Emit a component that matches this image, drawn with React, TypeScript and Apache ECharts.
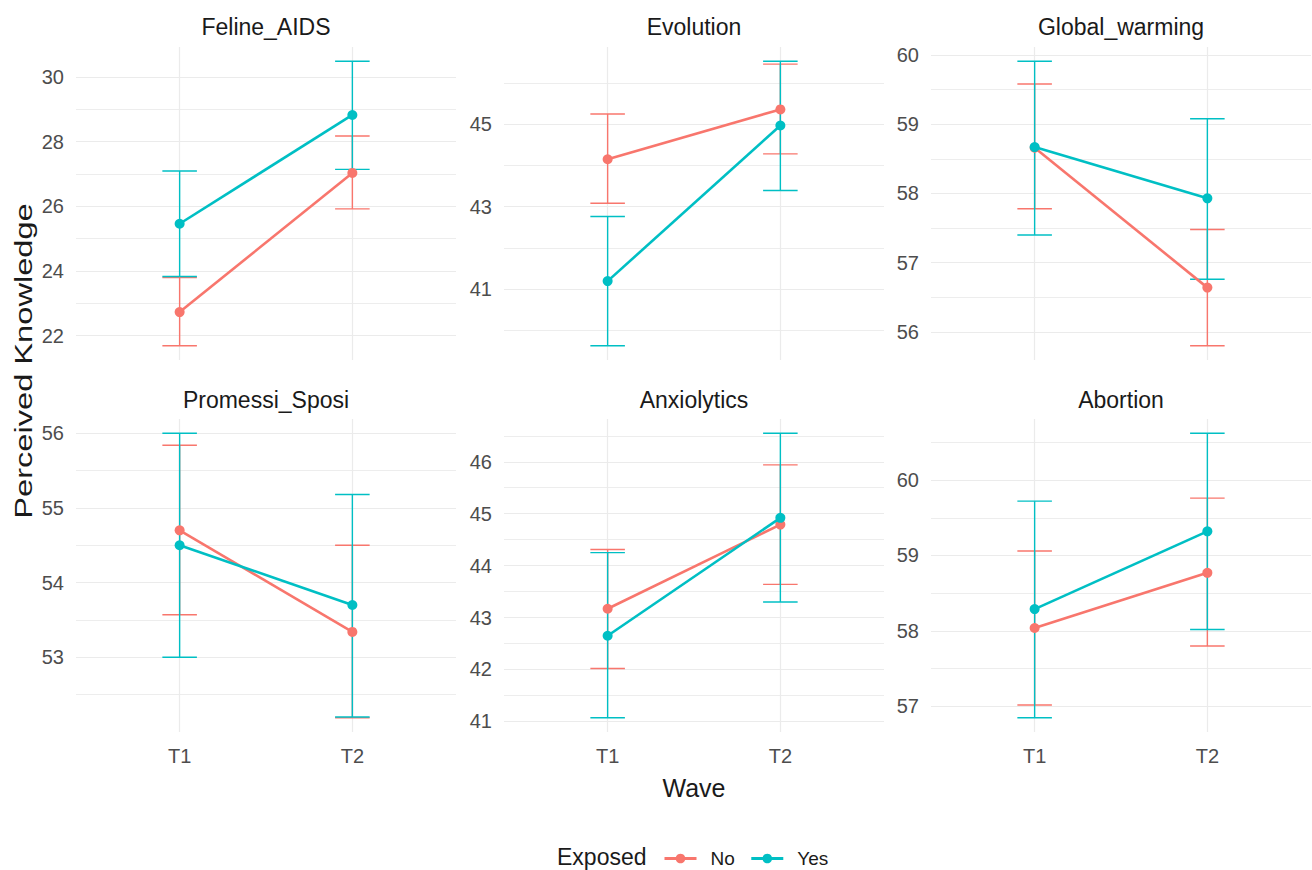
import React, { useEffect, useRef } from "react";
import * as echarts from "echarts";

const panels = ["Feline_AIDS", "Evolution", "Global_warming", "Promessi_Sposi", "Anxiolytics", "Abortion"];
const waves = ["T1", "T2"];
const groups = ["No", "Yes"];
const groupColors = ["#F8766D", "#00BFC4"];

// [T1, T2] per panel
const noMean = [[22.73, 27.03], [44.15, 45.36], [58.66, 56.64], [54.70, 53.34], [43.17, 44.79], [58.04, 58.77]];
const noLow = [[21.69, 25.92], [43.08, 44.28], [57.78, 55.80], [53.57, 52.19], [42.02, 43.64], [57.02, 57.80]];
const noHigh = [[23.80, 28.17], [45.25, 46.46], [59.58, 57.48], [55.84, 54.50], [44.31, 45.94], [59.06, 59.76]];

const yesMean = [[25.46, 28.82], [41.19, 44.97], [58.67, 57.93], [54.50, 53.70], [42.65, 44.92], [58.29, 59.32]];
const yesLow = [[23.83, 27.14], [39.62, 43.39], [57.40, 56.76], [53.00, 52.20], [41.07, 43.30], [56.85, 58.02]];
const yesHigh = [[27.09, 30.48], [42.76, 46.53], [59.91, 59.08], [56.00, 55.18], [44.25, 46.55], [59.72, 60.62]];

const majorTicks = [
  [22, 24, 26, 28, 30],
  [41, 43, 45],
  [56, 57, 58, 59, 60],
  [53, 54, 55, 56],
  [41, 42, 43, 44, 45, 46],
  [57, 58, 59, 60],
];
const minorTicks = [
  [23, 25, 27, 29],
  [40, 42, 44, 46],
  [56.5, 57.5, 58.5, 59.5],
  [52.5, 53.5, 54.5, 55.5],
  [41.5, 42.5, 43.5, 44.5, 45.5, 46.5],
  [57.5, 58.5, 59.5, 60.5],
];

const FONT = "'Liberation Sans', Arial, sans-serif";
const GRID_COLOR = "#EBEBEB";
const LABEL_COLOR = "#4D4D4D";
const TITLE_COLOR = "#1A1A1A";

const colLefts = [76, 504, 931];
const rowTops = [47, 419];
const panelW = 380;
const panelH = 313;

export default function App() {
  const ref = useRef<HTMLDivElement>(null);
  useEffect(() => {
    document.body.style.margin = "0";
    if (!ref.current) return;
    const chart = echarts.init(ref.current, null, { renderer: "svg" });

    const grids: any[] = [];
    const xAxes: any[] = [];
    const yAxes: any[] = [];
    const series: any[] = [];
    const graphics: any[] = [];

    const means = [noMean, yesMean];
    const lows = [noLow, yesLow];
    const highs = [noHigh, yesHigh];

    panels.forEach((name, i) => {
      const col = i % 3;
      const row = Math.floor(i / 3);
      const left = colLefts[col];
      const top = rowTops[row];
      grids.push({ left, top, width: panelW, height: panelH, containLabel: false });

      const allLo = Math.min(...noLow[i], ...yesLow[i]);
      const allHi = Math.max(...noHigh[i], ...yesHigh[i]);
      const span = allHi - allLo;
      const yMin = allLo - 0.05 * span;
      const yMax = allHi + 0.05 * span;

      xAxes.push({
        gridIndex: i,
        type: "value",
        min: 0.4,
        max: 2.6,
        axisLine: { show: false },
        axisTick: { show: false, customValues: [1, 2] },
        axisLabel: {
          show: row === 1,
          customValues: [1, 2],
          formatter: (v: number) => waves[Math.round(v) - 1],
          color: LABEL_COLOR,
          fontSize: 20,
          fontFamily: FONT,
          margin: 14,
        },
        splitLine: { show: true, lineStyle: { color: GRID_COLOR, width: 1.2 } },
      });

      yAxes.push({
        gridIndex: i,
        type: "value",
        min: yMin,
        max: yMax,
        axisLine: { show: false },
        axisTick: { show: false, customValues: majorTicks[i] },
        axisLabel: {
          customValues: majorTicks[i],
          color: LABEL_COLOR,
          fontSize: 20,
          fontFamily: FONT,
          margin: 12,
        },
        splitLine: { show: true, lineStyle: { color: GRID_COLOR, width: 1.2 } },
      });
      yAxes.push({
        gridIndex: i,
        type: "value",
        position: "left",
        min: yMin,
        max: yMax,
        axisLine: { show: false },
        axisTick: { show: false, customValues: minorTicks[i] },
        axisLabel: { show: false },
        splitLine: { show: true, lineStyle: { color: GRID_COLOR, width: 0.9 } },
      });

      groups.forEach((g, gi) => {
        const color = groupColors[gi];
        series.push({
          type: "custom",
          name: "err" + g,
          xAxisIndex: i,
          yAxisIndex: 2 * i,
          z: 1,
          encode: { x: 0, y: [1, 2] },
          data: waves.map((_, wi) => [wi + 1, lows[gi][i][wi], highs[gi][i][wi]]),
          renderItem: (_p: any, api: any) => {
            const x = api.value(0);
            const lo = api.value(1);
            const hi = api.value(2);
            const a = api.coord([x, lo]);
            const b = api.coord([x, hi]);
            const l1 = api.coord([x - 0.1, hi]);
            const r1 = api.coord([x + 0.1, hi]);
            const l2 = api.coord([x - 0.1, lo]);
            const r2 = api.coord([x + 0.1, lo]);
            const style = { stroke: color, lineWidth: 1.4, fill: null };
            return {
              type: "group",
              children: [
                { type: "line", shape: { x1: a[0], y1: a[1], x2: b[0], y2: b[1] }, style },
                { type: "line", shape: { x1: l1[0], y1: l1[1], x2: r1[0], y2: r1[1] }, style },
                { type: "line", shape: { x1: l2[0], y1: l2[1], x2: r2[0], y2: r2[1] }, style },
              ],
            };
          },
        });
      });
      groups.forEach((g, gi) => {
        const color = groupColors[gi];
        series.push({
          type: "line",
          name: g,
          xAxisIndex: i,
          yAxisIndex: 2 * i,
          z: 3 + gi,
          data: waves.map((_, wi) => [wi + 1, means[gi][i][wi]]),
          symbol: "circle",
          symbolSize: 10,
          showSymbol: true,
          lineStyle: { color, width: 2.6 },
          itemStyle: { color },
          emphasis: { disabled: true },
        });
      });

      graphics.push({
        type: "text",
        x: left + panelW / 2,
        y: row === 0 ? 27 : 400,
        style: {
          text: name,
          fill: TITLE_COLOR,
          font: `23px ${FONT}`,
          textAlign: "center",
          textVerticalAlign: "middle",
        },
      });
    });

    graphics.push({
      type: "text",
      x: colLefts[1] + panelW / 2,
      y: 788,
      style: { text: "Wave", fill: TITLE_COLOR, font: `25px ${FONT}`, textAlign: "center", textVerticalAlign: "middle" },
    });
    graphics.push({
      type: "text",
      x: 24,
      y: 361,
      rotation: Math.PI / 2,
      scaleX: 1.36,
      style: { text: "Perceived Knowledge", fill: TITLE_COLOR, font: `24px ${FONT}`, textAlign: "center", textVerticalAlign: "middle" },
    });
    graphics.push({
      type: "text",
      x: 557,
      y: 857,
      style: { text: "Exposed", fill: TITLE_COLOR, font: `23px ${FONT}`, textAlign: "left", textVerticalAlign: "middle" },
    });

    chart.setOption({
      animation: false,
      backgroundColor: "#FFFFFF",
      grid: grids,
      xAxis: xAxes,
      yAxis: yAxes,
      series,
      graphic: graphics,
      legend: {
        data: groups.map((g) => ({ name: g })),
        left: 658,
        top: 844,
        padding: 5,
        itemWidth: 32,
        itemHeight: 12,
        itemGap: 15,
        selectedMode: false,
        lineStyle: { width: 3 },
        textStyle: { fontSize: 19, color: TITLE_COLOR, fontFamily: FONT, padding: [0, 0, 0, 9] },
      },
    });

    return () => chart.dispose();
  }, []);

  return <div ref={ref} style={{ width: 1312, height: 870, position: "fixed", left: 0, top: 0 }} />;
}
